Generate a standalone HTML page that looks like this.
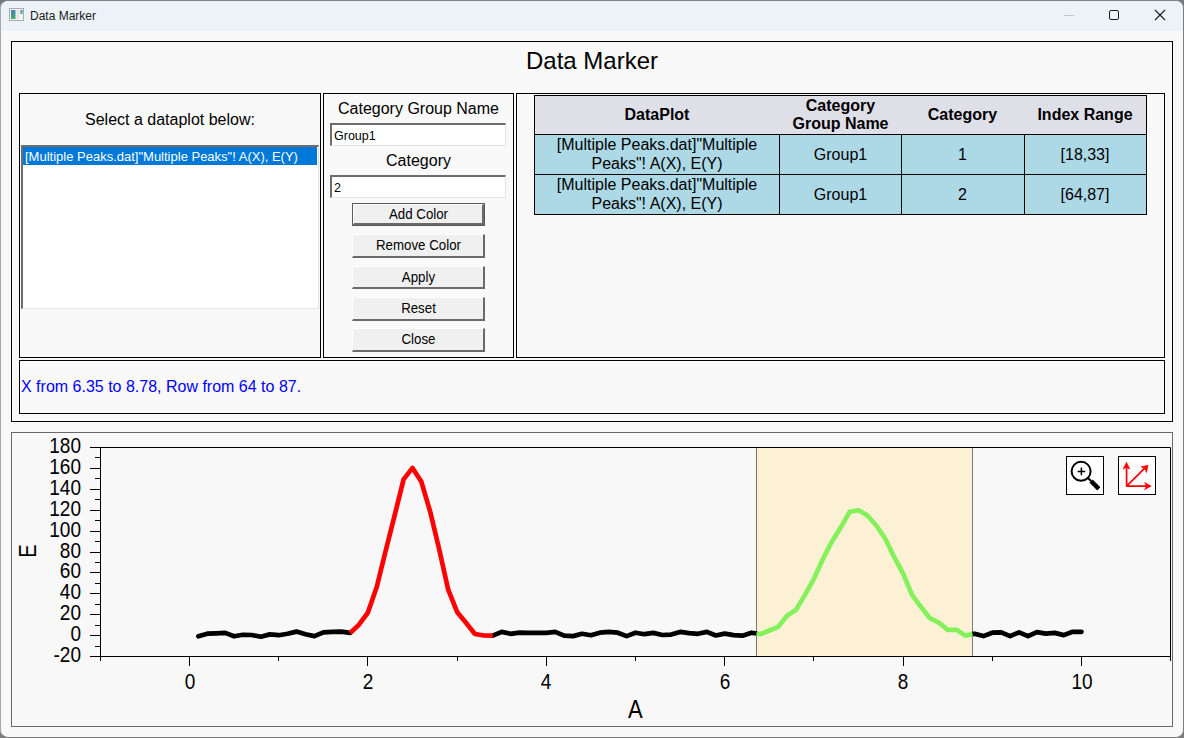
<!DOCTYPE html>
<html><head><meta charset="utf-8"><title>Data Marker</title>
<style>
html,body{margin:0;padding:0;}
body{width:1184px;height:738px;overflow:hidden;position:relative;background:#7b7b7b;font-family:"Liberation Sans", sans-serif;}
.b{position:absolute;}
.t{position:absolute;white-space:pre;font-family:"Liberation Sans", sans-serif;}
</style></head><body>
<div class="b" style="left:0px;top:0px;width:1184px;height:738px;background:#f9f9f9;border:1px solid;border-color:#7e7e7e #7e7e7e #7a7a7a #a8a8a8;box-sizing:border-box;border-radius:8px;"></div>
<div class="b" style="left:1px;top:1px;width:1182px;height:30px;background:#ebf3f9;border-radius:7px 7px 0 0;"></div>
<svg class="b" style="left:9px;top:8px" width="15" height="13" viewBox="0 0 15 13">
<defs><linearGradient id="gi" x1="0" y1="0" x2="0" y2="1"><stop offset="0" stop-color="#4a84c8"/><stop offset="1" stop-color="#3fb05a"/></linearGradient></defs>
<rect x="0.5" y="0.5" width="14" height="12" fill="#f4f4f4" stroke="#a9abad"/>
<rect x="2" y="2" width="4.5" height="9" fill="url(#gi)"/>
<rect x="7.5" y="2" width="3" height="9" fill="#e4e4e4"/>
<rect x="11.5" y="2" width="2" height="4" fill="url(#gi)"/>
</svg>
<div class="t" style="left:30px;top:9.84px;font-size:12px;line-height:12px;font-weight:400;color:#1a1a1a;">Data Marker</div>
<div class="b" style="left:1064px;top:15px;width:10px;height:1px;background:#c4c6c8"></div>
<div class="b" style="left:1109px;top:10px;width:10px;height:10px;border:1px solid #1a1a1a;border-radius:2px;box-sizing:border-box"></div>
<svg class="b" style="left:1154px;top:9px" width="12" height="12" viewBox="0 0 12 12"><path d="M1 1L11 11M11 1L1 11" stroke="#1a1a1a" stroke-width="1.1"/></svg>
<div class="b" style="left:11px;top:41px;width:1162px;height:381px;border:1px solid #000;box-sizing:border-box;"></div>
<div class="t" style="left:292px;width:600px;text-align:center;top:48.68px;font-size:24px;line-height:24px;font-weight:400;color:#000;">Data Marker</div>
<div class="b" style="left:19px;top:93px;width:302px;height:265px;border:1px solid #000;box-sizing:border-box;"></div>
<div class="t" style="left:-130px;width:600px;text-align:center;top:112.46px;font-size:16px;line-height:16px;font-weight:400;color:#000;">Select a dataplot below:</div>
<div class="b" style="left:21px;top:145px;width:298px;height:164px;background:#fff;border-style:solid;border-width:2px 1px 1px 2px;border-color:#6d6d6d #e3e3e3 #e3e3e3 #6d6d6d;box-sizing:border-box;"></div>
<div class="b" style="left:23px;top:147px;width:294px;height:18px;background:#0078d7;"></div>
<div class="t" style="left:25px;top:150.00px;font-size:13px;line-height:13px;font-weight:400;color:#fff;">[Multiple Peaks.dat]"Multiple Peaks"! A(X), E(Y)</div>
<div class="b" style="left:323px;top:93px;width:191px;height:265px;border:1px solid #000;box-sizing:border-box;"></div>
<div class="t" style="left:118.5px;width:600px;text-align:center;top:101.16px;font-size:16px;line-height:16px;font-weight:400;color:#000;">Category Group Name</div>
<div class="b" style="left:330px;top:123px;width:176px;height:23px;background:#fff;border-style:solid;border-width:2px 1px 1px 2px;border-color:#6d6d6d #e3e3e3 #e3e3e3 #6d6d6d;box-sizing:border-box;"></div>
<div class="t" style="left:334px;top:130.42px;font-size:12.5px;line-height:12.5px;font-weight:400;color:#000;">Group1</div>
<div class="t" style="left:118.5px;width:600px;text-align:center;top:153.16px;font-size:16px;line-height:16px;font-weight:400;color:#000;">Category</div>
<div class="b" style="left:330px;top:175px;width:176px;height:23px;background:#fff;border-style:solid;border-width:2px 1px 1px 2px;border-color:#6d6d6d #e3e3e3 #e3e3e3 #6d6d6d;box-sizing:border-box;"></div>
<div class="t" style="left:334px;top:182.42px;font-size:12.5px;line-height:12.5px;font-weight:400;color:#000;">2</div>
<div class="b" style="left:352px;top:203px;width:133px;height:23px;border:1px solid #5a5a5a;box-sizing:border-box;"></div>
<div class="b" style="left:353px;top:204px;width:131px;height:21px;background:#f0f0f0;border-style:solid;border-width:1px 2px 2px 1px;border-color:#fff #6a6a6a #6a6a6a #fff;box-sizing:border-box;"></div>
<div class="t" style="left:118.5px;width:600px;text-align:center;top:208.04px;font-size:13.3px;line-height:13.3px;font-weight:400;color:#000;transform:scaleY(1.06);transform-origin:50% 11.26px;">Add Color</div>
<div class="b" style="left:352px;top:234px;width:133px;height:24px;background:#f0f0f0;border-style:solid;border-width:1px 2px 2px 1px;border-color:#fff #6a6a6a #6a6a6a #fff;box-sizing:border-box;"></div>
<div class="t" style="left:118.5px;width:600px;text-align:center;top:239.04px;font-size:13.3px;line-height:13.3px;font-weight:400;color:#000;transform:scaleY(1.06);transform-origin:50% 11.26px;">Remove Color</div>
<div class="b" style="left:352px;top:266px;width:133px;height:23px;background:#f0f0f0;border-style:solid;border-width:1px 2px 2px 1px;border-color:#fff #6a6a6a #6a6a6a #fff;box-sizing:border-box;"></div>
<div class="t" style="left:118.5px;width:600px;text-align:center;top:271.04px;font-size:13.3px;line-height:13.3px;font-weight:400;color:#000;transform:scaleY(1.06);transform-origin:50% 11.26px;">Apply</div>
<div class="b" style="left:352px;top:297px;width:133px;height:24px;background:#f0f0f0;border-style:solid;border-width:1px 2px 2px 1px;border-color:#fff #6a6a6a #6a6a6a #fff;box-sizing:border-box;"></div>
<div class="t" style="left:118.5px;width:600px;text-align:center;top:302.04px;font-size:13.3px;line-height:13.3px;font-weight:400;color:#000;transform:scaleY(1.06);transform-origin:50% 11.26px;">Reset</div>
<div class="b" style="left:352px;top:328px;width:133px;height:24px;background:#f0f0f0;border-style:solid;border-width:1px 2px 2px 1px;border-color:#fff #6a6a6a #6a6a6a #fff;box-sizing:border-box;"></div>
<div class="t" style="left:118.5px;width:600px;text-align:center;top:333.04px;font-size:13.3px;line-height:13.3px;font-weight:400;color:#000;transform:scaleY(1.06);transform-origin:50% 11.26px;">Close</div>
<div class="b" style="left:516px;top:93px;width:649px;height:265px;border:1px solid #000;box-sizing:border-box;"></div>
<div class="b" style="left:534px;top:95px;width:613px;height:40px;background:#dfdfe8;border:1px solid #000;box-sizing:border-box;"></div>
<div class="b" style="left:534px;top:134px;width:613px;height:81px;background:#add8e6;border:1px solid #000;box-sizing:border-box;"></div>
<div class="b" style="left:534px;top:174px;width:613px;height:1px;background:#000"></div>
<div class="b" style="left:779px;top:134px;width:1px;height:81px;background:#000"></div>
<div class="b" style="left:901px;top:134px;width:1px;height:81px;background:#000"></div>
<div class="b" style="left:1024px;top:134px;width:1px;height:81px;background:#000"></div>
<div class="t" style="left:357px;width:600px;text-align:center;top:107.46px;font-size:16px;line-height:16px;font-weight:700;color:#000;">DataPlot</div>
<div class="t" style="left:540.5px;width:600px;text-align:center;top:98.46px;font-size:16px;line-height:16px;font-weight:700;color:#000;">Category</div>
<div class="t" style="left:540.5px;width:600px;text-align:center;top:116.46px;font-size:16px;line-height:16px;font-weight:700;color:#000;">Group Name</div>
<div class="t" style="left:662.5px;width:600px;text-align:center;top:107.46px;font-size:16px;line-height:16px;font-weight:700;color:#000;">Category</div>
<div class="t" style="left:785px;width:600px;text-align:center;top:107.46px;font-size:16px;line-height:16px;font-weight:700;color:#000;">Index Range</div>
<div class="t" style="left:357px;width:600px;text-align:center;top:137.46px;font-size:16px;line-height:16px;font-weight:400;color:#000;">[Multiple Peaks.dat]"Multiple</div>
<div class="t" style="left:357px;width:600px;text-align:center;top:156.46px;font-size:16px;line-height:16px;font-weight:400;color:#000;">Peaks"! A(X), E(Y)</div>
<div class="t" style="left:540.5px;width:600px;text-align:center;top:147.46px;font-size:16px;line-height:16px;font-weight:400;color:#000;">Group1</div>
<div class="t" style="left:357px;width:600px;text-align:center;top:177.46px;font-size:16px;line-height:16px;font-weight:400;color:#000;">[Multiple Peaks.dat]"Multiple</div>
<div class="t" style="left:357px;width:600px;text-align:center;top:196.46px;font-size:16px;line-height:16px;font-weight:400;color:#000;">Peaks"! A(X), E(Y)</div>
<div class="t" style="left:540.5px;width:600px;text-align:center;top:187.46px;font-size:16px;line-height:16px;font-weight:400;color:#000;">Group1</div>
<div class="t" style="left:662.5px;width:600px;text-align:center;top:147.46px;font-size:16px;line-height:16px;font-weight:400;color:#000;">1</div>
<div class="t" style="left:662.5px;width:600px;text-align:center;top:187.46px;font-size:16px;line-height:16px;font-weight:400;color:#000;">2</div>
<div class="t" style="left:785px;width:600px;text-align:center;top:147.46px;font-size:16px;line-height:16px;font-weight:400;color:#000;">[18,33]</div>
<div class="t" style="left:785px;width:600px;text-align:center;top:187.46px;font-size:16px;line-height:16px;font-weight:400;color:#000;">[64,87]</div>
<div class="b" style="left:19px;top:360px;width:1146px;height:54px;border:1px solid #000;box-sizing:border-box;"></div>
<div class="t" style="left:21px;top:379.46px;font-size:16px;line-height:16px;font-weight:400;color:#0000ff;">X from 6.35 to 8.78, Row from 64 to 87.</div>
<div class="b" style="left:11px;top:432px;width:1162px;height:295px;border:1px solid #686868;box-sizing:border-box;background:#f8f8f8;"></div>
<svg class="b" style="left:0;top:0" width="1184" height="738" viewBox="0 0 1184 738"><rect x="757" y="447" width="215" height="209" fill="#fcf1d5"/><line x1="756.5" y1="447" x2="756.5" y2="656" stroke="#787460" stroke-width="1"/><line x1="972.5" y1="447" x2="972.5" y2="656" stroke="#7a7a7a" stroke-width="1"/><path d="M90 447.5H1170.5V656" fill="none" stroke="#000" stroke-width="1"/><path d="M100.5 447V661M90 656.5H1170.5" fill="none" stroke="#000" stroke-width="1"/><line x1="90" y1="656.5" x2="100" y2="656.5" stroke="#000"/><line x1="95" y1="646.5" x2="100" y2="646.5" stroke="#000"/><line x1="90" y1="635.5" x2="100" y2="635.5" stroke="#000"/><line x1="95" y1="625.5" x2="100" y2="625.5" stroke="#000"/><line x1="90" y1="614.5" x2="100" y2="614.5" stroke="#000"/><line x1="95" y1="604.5" x2="100" y2="604.5" stroke="#000"/><line x1="90" y1="593.5" x2="100" y2="593.5" stroke="#000"/><line x1="95" y1="583.5" x2="100" y2="583.5" stroke="#000"/><line x1="90" y1="572.5" x2="100" y2="572.5" stroke="#000"/><line x1="95" y1="562.5" x2="100" y2="562.5" stroke="#000"/><line x1="90" y1="552.5" x2="100" y2="552.5" stroke="#000"/><line x1="95" y1="541.5" x2="100" y2="541.5" stroke="#000"/><line x1="90" y1="531.5" x2="100" y2="531.5" stroke="#000"/><line x1="95" y1="520.5" x2="100" y2="520.5" stroke="#000"/><line x1="90" y1="510.5" x2="100" y2="510.5" stroke="#000"/><line x1="95" y1="499.5" x2="100" y2="499.5" stroke="#000"/><line x1="90" y1="489.5" x2="100" y2="489.5" stroke="#000"/><line x1="95" y1="478.5" x2="100" y2="478.5" stroke="#000"/><line x1="90" y1="468.5" x2="100" y2="468.5" stroke="#000"/><line x1="95" y1="457.5" x2="100" y2="457.5" stroke="#000"/><line x1="90" y1="447.5" x2="100" y2="447.5" stroke="#000"/><line x1="100.5" y1="656" x2="100.5" y2="661" stroke="#000"/><line x1="189.5" y1="656" x2="189.5" y2="666" stroke="#000"/><line x1="278.5" y1="656" x2="278.5" y2="661" stroke="#000"/><line x1="367.5" y1="656" x2="367.5" y2="666" stroke="#000"/><line x1="457.5" y1="656" x2="457.5" y2="661" stroke="#000"/><line x1="546.5" y1="656" x2="546.5" y2="666" stroke="#000"/><line x1="635.5" y1="656" x2="635.5" y2="661" stroke="#000"/><line x1="724.5" y1="656" x2="724.5" y2="666" stroke="#000"/><line x1="813.5" y1="656" x2="813.5" y2="661" stroke="#000"/><line x1="903.5" y1="656" x2="903.5" y2="666" stroke="#000"/><line x1="992.5" y1="656" x2="992.5" y2="661" stroke="#000"/><line x1="1081.5" y1="656" x2="1081.5" y2="666" stroke="#000"/><line x1="1170.5" y1="656" x2="1170.5" y2="661" stroke="#000"/><line x1="1170.5" y1="656" x2="1170.5" y2="661" stroke="#000"/><path d="M198.4 636.3 L207.3 633.7 L216.3 633.3 L225.2 632.9 L234.1 636.3 L243.0 634.8 L251.9 635.0 L260.9 636.7 L269.8 634.4 L278.7 635.2 L287.6 633.8 L296.5 631.6 L305.5 634.2 L314.4 636.1 L323.3 632.3 L332.2 631.9 L341.1 631.6 L350.1 632.9 M492.8 635.6 L501.7 631.9 L510.6 633.8 L519.5 632.7 L528.5 632.9 L537.4 632.9 L546.3 632.9 L555.2 631.9 L564.1 635.7 L573.1 636.1 L582.0 633.8 L590.9 635.3 L599.8 632.7 L608.7 631.9 L617.7 632.7 L626.6 636.1 L635.5 632.7 L644.4 634.2 L653.3 632.9 L662.3 635.0 L671.2 634.6 L680.1 631.9 L689.0 633.1 L697.9 633.8 L706.9 631.9 L715.8 635.5 L724.7 633.6 L733.6 635.1 L742.5 635.7 L751.5 632.7 L756.5 633.5 M972.5 634.1 L974.5 633.7 L983.4 636.1 L992.3 632.7 L1001.2 632.3 L1010.1 636.1 L1019.1 632.3 L1028.0 636.1 L1036.9 632.1 L1045.8 633.6 L1054.7 632.9 L1063.7 635.1 L1072.6 631.8 L1081.5 631.8" fill="none" stroke="#000" stroke-width="4.7" stroke-linejoin="round" stroke-linecap="round"/><path d="M350.1 632.9 L359.0 624.7 L367.9 612.6 L376.8 586.7 L385.7 550.8 L394.7 515.2 L403.6 479.4 L412.5 467.9 L421.4 481.8 L430.3 512.1 L439.3 549.8 L448.2 589.7 L457.1 611.9 L466.0 622.8 L474.9 634.0 L483.9 635.5 L492.8 635.6" fill="none" stroke="#ff0000" stroke-width="4.7" stroke-linejoin="round" stroke-linecap="butt"/><path d="M756.5 633.5 L760.4 634.2 L769.3 630.5 L778.2 626.8 L787.1 615.6 L796.1 609.7 L805.0 594.9 L813.9 578.8 L822.8 559.3 L831.7 541.9 L840.7 527.6 L849.6 511.8 L858.5 510.2 L867.4 515.5 L876.3 525.5 L885.3 538.7 L894.2 557.2 L903.1 573.5 L912.0 594.8 L920.9 606.8 L929.9 618.2 L938.8 622.6 L947.7 629.8 L956.6 629.8 L965.5 635.6 L972.5 634.1" fill="none" stroke="#84f05a" stroke-width="4.7" stroke-linejoin="round" stroke-linecap="butt"/><rect x="1066.5" y="456.5" width="37" height="38" fill="#fff" stroke="#000"/><rect x="1118.5" y="456.5" width="37" height="38" fill="#fff" stroke="#000"/><circle cx="1081.1" cy="471.3" r="9.5" fill="none" stroke="#000" stroke-width="2"/><path d="M1077.6 471.6H1085.2M1081.4 467.6V475.2" stroke="#000" stroke-width="1.5"/><path d="M1088 478L1091 481" stroke="#000" stroke-width="2"/><path d="M1091 481L1098.8 488.8" stroke="#000" stroke-width="4.5"/><g stroke="#ff0000" stroke-width="1.7" fill="none" stroke-linecap="round" stroke-linejoin="round"><path d="M1126.6 486.1V465.5M1126.6 486.1H1147.5M1126.6 486.1L1145.3 467.6"/></g><g fill="#ff0000" stroke="#ff0000" stroke-width="0.6" stroke-linejoin="round"><path d="M1126.5 462.2L1123.1 469L1126.5 467.4L1129.8 469Z"/><path d="M1151.2 486.1L1144.6 482.6L1146.3 486.1L1144.6 489.7Z"/><path d="M1148.1 465.3L1140.9 466.8L1144.7 468.6L1146.5 472.6Z"/></g></svg>
<div class="t" style="left:-119px;width:200px;text-align:right;top:645.00px;font-size:20px;line-height:20px;transform:scale(0.95,1.09);transform-origin:200px 17.00px">-20</div>
<div class="t" style="left:-119px;width:200px;text-align:right;top:624.00px;font-size:20px;line-height:20px;transform:scale(0.95,1.09);transform-origin:200px 17.00px">0</div>
<div class="t" style="left:-119px;width:200px;text-align:right;top:603.00px;font-size:20px;line-height:20px;transform:scale(0.95,1.09);transform-origin:200px 17.00px">20</div>
<div class="t" style="left:-119px;width:200px;text-align:right;top:582.00px;font-size:20px;line-height:20px;transform:scale(0.95,1.09);transform-origin:200px 17.00px">40</div>
<div class="t" style="left:-119px;width:200px;text-align:right;top:561.00px;font-size:20px;line-height:20px;transform:scale(0.95,1.09);transform-origin:200px 17.00px">60</div>
<div class="t" style="left:-119px;width:200px;text-align:right;top:541.00px;font-size:20px;line-height:20px;transform:scale(0.95,1.09);transform-origin:200px 17.00px">80</div>
<div class="t" style="left:-119px;width:200px;text-align:right;top:520.00px;font-size:20px;line-height:20px;transform:scale(0.95,1.09);transform-origin:200px 17.00px">100</div>
<div class="t" style="left:-119px;width:200px;text-align:right;top:499.00px;font-size:20px;line-height:20px;transform:scale(0.95,1.09);transform-origin:200px 17.00px">120</div>
<div class="t" style="left:-119px;width:200px;text-align:right;top:478.00px;font-size:20px;line-height:20px;transform:scale(0.95,1.09);transform-origin:200px 17.00px">140</div>
<div class="t" style="left:-119px;width:200px;text-align:right;top:457.00px;font-size:20px;line-height:20px;transform:scale(0.95,1.09);transform-origin:200px 17.00px">160</div>
<div class="t" style="left:-119px;width:200px;text-align:right;top:436.00px;font-size:20px;line-height:20px;transform:scale(0.95,1.09);transform-origin:200px 17.00px">180</div>
<div class="t" style="left:89.5px;width:200px;text-align:center;top:672.00px;font-size:20px;line-height:20px;transform:scale(0.95,1.09);transform-origin:100px 17.00px">0</div>
<div class="t" style="left:267.9px;width:200px;text-align:center;top:672.00px;font-size:20px;line-height:20px;transform:scale(0.95,1.09);transform-origin:100px 17.00px">2</div>
<div class="t" style="left:446.29999999999995px;width:200px;text-align:center;top:672.00px;font-size:20px;line-height:20px;transform:scale(0.95,1.09);transform-origin:100px 17.00px">4</div>
<div class="t" style="left:624.7px;width:200px;text-align:center;top:672.00px;font-size:20px;line-height:20px;transform:scale(0.95,1.09);transform-origin:100px 17.00px">6</div>
<div class="t" style="left:803.1px;width:200px;text-align:center;top:672.00px;font-size:20px;line-height:20px;transform:scale(0.95,1.09);transform-origin:100px 17.00px">8</div>
<div class="t" style="left:981.5px;width:200px;text-align:center;top:672.00px;font-size:20px;line-height:20px;transform:scale(0.95,1.09);transform-origin:100px 17.00px">10</div>
<div class="t" style="left:535.4px;width:200px;text-align:center;top:699.50px;font-size:22px;line-height:22px;transform:scale(1.0,1.13);transform-origin:100px 18.50px">A</div>
<div class="t" style="left:-72.5px;top:540px;width:200px;height:22px;text-align:center;font-size:22px;line-height:22px;transform-origin:100px 11px;transform:rotate(-90deg) scale(0.92,1.11)">E</div>
</body></html>
